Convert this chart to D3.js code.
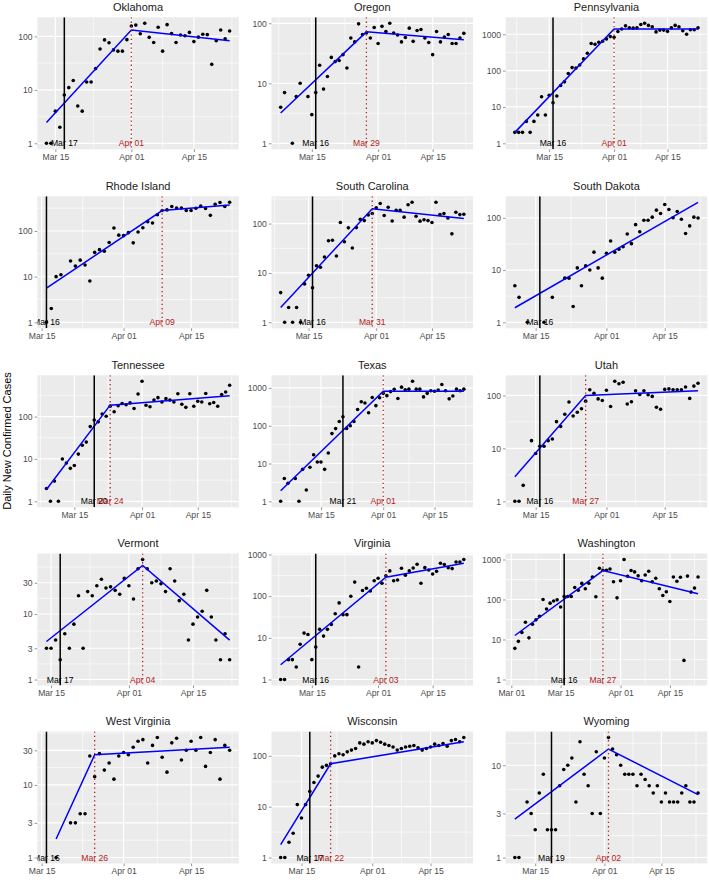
<!DOCTYPE html>
<html><head><meta charset="utf-8">
<script src="https://cdn.jsdelivr.net/npm/d3@7"></script>
<style>
body{margin:0;background:#fff}
text{font-family:"Liberation Sans",Arial,Helvetica,sans-serif}
</style>
</head><body>
<svg id="chart" width="709" height="880"></svg>
<script>
// ---------------- DATA ----------------
const states = ["Oklahoma","Oregon","Pennsylvania","Rhode Island","South Carolina","South Dakota",
  "Tennessee","Texas","Utah","Vermont","Virginia","Washington","West Virginia","Wisconsin","Wyoming"];
const startDates = ["2020-03-13","2020-03-07","2020-03-06","2020-03-16","2020-03-08","2020-03-10",
  "2020-03-08","2020-03-04","2020-03-10","2020-03-14","2020-03-07","2020-03-02","2020-03-18","2020-03-10","2020-03-10"];
const policyDates = ["2020-03-17","2020-03-16","2020-03-16","2020-03-16","2020-03-16","2020-03-16",
  "2020-03-20","2020-03-21","2020-03-16","2020-03-17","2020-03-16","2020-03-16","2020-03-16","2020-03-17","2020-03-19"];
const breakDates = ["2020-04-01","2020-03-29","2020-04-01","2020-04-09","2020-03-31",null,
  "2020-03-24","2020-04-01","2020-03-27","2020-04-04","2020-04-03","2020-03-27","2020-03-26","2020-03-22","2020-04-02"];
// fitted segmented trend: value at start, at breakpoint, at end
const fitStart = [2.45,3.2,2,5.6,2,1.9,1.9,1.9,2.9,3.8,2.26,12.6,1.8,1.8,2.6];
const fitBreak = [132,72,1400,280,200,null,186,820,100,55,285,530,26,70,15];
const fitEnd   = [83,53,1400,370,127,198,310,820,122,4.0,620,139,33,190,4.8];

const oklahomaCases = [1,1,4,2,8,11,15,5,4,14,14,25,58,86,76,56,53,53,87,
  157,163,112,176,96,77,148,53,166,113,77,106,103,119,80,97,110,108,30,83,132,90,126];
const oregonCases = [4,7,null,1,6,10,null,6,3,7,20,8,13,27,23,24,30,18,57,49,98,65,69,57,85,
  46,89,73,100,69,64,49,58,83,50,76,79,57,48,30,73,49,59,65,46,46,57,68];
const pennsylvaniaCases = [2,2,2,4,2,4,6,19,6,21,13,20,39,49,83,121,117,143,210,300,555,530,600,640,745,860,
  830,1190,1400,1700,1500,1470,1500,1850,2000,1750,1600,1160,1300,1300,1200,1500,1750,1600,1250,1000,1330,1330,1500];
const rhodeIslandCases = [1,2,10,11,null,22,17,23,18,8,34,39,36,56,116,81,
  79,92,55,95,118,160,150,226,280,290,344,320,320,280,280,315,350,310,220,385,420,345,425];
const southCarolinaCases = [4,1,2,1,2,1,6,9,5,14,13,21,45,46,22,105,43,82,32,83,122,115,150,160,
  210,256,146,214,113,185,185,135,240,270,141,112,120,115,105,270,152,160,130,62,170,152,155];
const southDakotaCases = [5,3,null,1,null,null,null,1,null,3,null,null,7,7,2,11,5,12,10,22,11,7,
  21,36,22,25,28,49,32,74,54,90,90,103,140,121,180,144,100,132,94,50,70,103,99];
const tennesseeCases = [2,1,3,1,10,8,6,7,13,21,25,58,83,75,115,102,176,130,180,203,190,210,155,340,
  680,185,170,245,280,220,265,245,220,345,195,165,345,175,230,220,350,200,215,175,330,380,550];
const texasCases = [1,4,3,null,4,1,7,2,8,17,11,11,7,19,62,84,130,172,85,100,130,270,430,400,220,560,340,550,
  720,625,800,920,525,1050,900,930,1500,930,930,580,720,840,820,880,1230,840,515,610,930,840,930];
const utahCases = [1,1,2,null,14,8,11,11,14,15,32,26,44,75,41,48,56,78,128,110,86,80,
  125,62,185,166,177,69,76,122,104,122,103,96,60,55,130,133,128,128,128,144,88,150,170];
const vermontCases = [3,3,4,2,5,3,7,19,3,22,19,27,34,25,26,23,20,35,
  27,17,49,68,49,30,32,29,22,49,32,16,20,4,7,9,11,23,9,4,2,5,2];
const virginiaCases = [1,1,3,3,2,7,13,12,3,6,16,11,16,21,38,69,36,36,100,218,2,137,155,133,235,
  270,205,310,405,235,245,470,320,405,475,585,205,485,425,340,395,620,575,485,460,660,660,760];
const washingtonCases = [6,9,15,27,11,24,31,38,100,58,81,92,98,65,119,119,119,200,170,253,185,255,365,117,605,540,540,580,278,110,
  295,1000,380,530,490,390,295,410,510,278,340,185,126,156,89,365,285,360,3,385,153,193,365];
const westVirginiaCases = [1,null,null,3,3,4,4,25,13,27,16,20,12,25,
  28,26,33,40,42,20,35,45,24,15,38,44,22,30,40,30,45,18,28,42,12,35,30];
const wisconsinCases = [1,1,2,3,11,6,11,20,30,40,60,65,70,100,110,105,120,130,140,180,170,190,
  180,200,185,170,160,150,130,140,150,155,160,145,130,140,150,170,160,175,155,200,210,190,230];
const wyomingCases = [1,1,null,4,3,2,5,8,2,2,2,6,9,10,12,4,18,8,6,3,14,3,
  12,20,15,13,10,8,8,8,6,8,7,6,5,6,4,5,4,4,4,5,6,4,4,5];

const casesByState = [oklahomaCases,oregonCases,pennsylvaniaCases,rhodeIslandCases,southCarolinaCases,southDakotaCases,
  tennesseeCases,texasCases,utahCases,vermontCases,virginiaCases,washingtonCases,westVirginiaCases,wisconsinCases,wyomingCases];
const xBreakCandidates = ["2020-02-15","2020-03-01","2020-03-15","2020-04-01","2020-04-15","2020-05-01","2020-05-15"];
const yAxisTitle = "Daily New Confirmed Cases";

// ---------------- LAYOUT ----------------
const svg = d3.select("#chart");
const parse = d3.utcParse("%Y-%m-%d");
const fmt = d3.utcFormat("%b %d");
const DAY = 864e5;
const panelW = 201.5, panelH = 132;
const colX = [37.3, 271.5, 505.7];
const rowY = [17.3, 196.3, 375.3, 553.5, 731.5];
const gray = "#EBEBEB", axisCol = "#4D4D4D", red = "#B22222";

function minorBreaks(b, lo, hi) {
  if (b.length < 2) return [];
  const bd = b[1] - b[0];
  let bb = b.slice();
  if (lo < bb[0]) bb.unshift(bb[0] - bd);
  if (hi > bb[bb.length - 1]) bb.push(bb[bb.length - 1] + bd);
  const out = [];
  for (let i = 0; i < bb.length - 1; i++) out.push((bb[i] + bb[i + 1]) / 2);
  return out.filter(v => v >= lo && v <= hi);
}

function logBreaks(lo, hi) {
  const a = Math.floor(Math.log10(lo)), b = Math.ceil(Math.log10(hi));
  let br = d3.range(a, b + 1).map(e => Math.pow(10, e)).filter(v => v >= lo && v <= hi);
  if (br.length < 3) {
    br = [];
    d3.range(a, b + 1).forEach(e => { br.push(Math.pow(10, e), 3 * Math.pow(10, e)); });
    br = br.filter(v => v >= lo && v <= hi);
  }
  return br;
}

const defs = svg.append("defs");

states.forEach((name, i) => {
  const col = i % 3, row = Math.floor(i / 3);
  const x0 = colX[col], y0 = rowY[row];
  const start = parse(startDates[i]);
  const vals = casesByState[i];
  const last = new Date(+start + (vals.length - 1) * DAY);
  const pts = vals.map((v, k) => ({ date: new Date(+start + k * DAY), v }))
    .filter(p => p.v != null && p.v > 0);
  const pDate = parse(policyDates[i]);
  const bDate = breakDates[i] ? parse(breakDates[i]) : null;
  const fit = bDate ? [{ date: start, v: fitStart[i] }, { date: bDate, v: fitBreak[i] }, { date: last, v: fitEnd[i] }]
                    : [{ date: start, v: fitStart[i] }, { date: last, v: fitEnd[i] }];

  const xs = [start, last, pDate].concat(bDate ? [bDate] : []).map(d => +d);
  const xmin = d3.min(xs), xmax = d3.max(xs), xspan = xmax - xmin;
  const x = d3.scaleUtc().domain([new Date(xmin - 0.05 * xspan), new Date(xmax + 0.05 * xspan)])
    .range([x0, x0 + panelW]);

  const ls = pts.map(p => Math.log10(p.v)).concat(fit.map(f => Math.log10(f.v))).concat([0]);
  const lmin = d3.min(ls), lmax = d3.max(ls), pad = 0.05 * (lmax - lmin);
  const ylo = Math.pow(10, lmin - pad), yhi = Math.pow(10, lmax + pad);
  const y = d3.scaleLog().domain([ylo, yhi]).range([y0 + panelH, y0]);

  const g = svg.append("g");
  g.append("rect").attr("x", x0).attr("y", y0).attr("width", panelW).attr("height", panelH).attr("fill", gray);

  const clipId = "clip" + i;
  defs.append("clipPath").attr("id", clipId).append("rect")
    .attr("x", x0).attr("y", y0).attr("width", panelW).attr("height", panelH);

  const yMaj = logBreaks(ylo, yhi);
  const yMin = minorBreaks(yMaj.map(Math.log10), Math.log10(ylo), Math.log10(yhi)).map(v => Math.pow(10, v));
  g.selectAll(null).data(yMin).join("line")
    .attr("x1", x0).attr("x2", x0 + panelW).attr("y1", d => y(d)).attr("y2", d => y(d))
    .attr("stroke", "#fff").attr("stroke-width", 0.6);
  const dlo = x.domain()[0], dhi = x.domain()[1];
  const xMaj = xBreakCandidates.map(parse).filter(d => d >= dlo && d <= dhi);
  const xMin = minorBreaks(xMaj.map(d => +d), +dlo, +dhi);
  g.selectAll(null).data(xMin).join("line")
    .attr("y1", y0).attr("y2", y0 + panelH).attr("x1", d => x(new Date(d))).attr("x2", d => x(new Date(d)))
    .attr("stroke", "#fff").attr("stroke-width", 0.6);
  g.selectAll(null).data(yMaj).join("line")
    .attr("x1", x0).attr("x2", x0 + panelW).attr("y1", d => y(d)).attr("y2", d => y(d))
    .attr("stroke", "#fff").attr("stroke-width", 1.2);
  g.selectAll(null).data(xMaj).join("line")
    .attr("y1", y0).attr("y2", y0 + panelH).attr("x1", d => x(d)).attr("x2", d => x(d))
    .attr("stroke", "#fff").attr("stroke-width", 1.2);

  const pg = g.append("g").attr("clip-path", `url(#${clipId})`);
  pg.selectAll(null).data(pts).join("circle")
    .attr("cx", d => x(d.date)).attr("cy", d => y(d.v)).attr("r", 1.8).attr("fill", "#000");
  pg.append("path").datum(fit)
    .attr("d", d3.line().x(d => x(d.date)).y(d => y(d.v)))
    .attr("fill", "none").attr("stroke", "#0000FF").attr("stroke-width", 1.5);
  pg.append("line").attr("x1", x(pDate)).attr("x2", x(pDate)).attr("y1", y0).attr("y2", y0 + panelH)
    .attr("stroke", "#000").attr("stroke-width", 1.5);
  if (bDate) {
    pg.append("line").attr("x1", x(bDate)).attr("x2", x(bDate)).attr("y1", y0).attr("y2", y0 + panelH)
      .attr("stroke", red).attr("stroke-width", 1.3).attr("stroke-dasharray", "1.3,3");
  }
  pg.append("text").attr("x", x(pDate)).attr("y", y(1)).attr("dy", "0.35em")
    .attr("text-anchor", "middle").attr("font-size", 8.6).attr("fill", "#000").text(fmt(pDate));
  if (bDate) {
    pg.append("text").attr("x", x(bDate)).attr("y", y(1)).attr("dy", "0.35em")
      .attr("text-anchor", "middle").attr("font-size", 8.6).attr("fill", red).text(fmt(bDate));
  }

  const ya = g.append("g").attr("transform", `translate(${x0},0)`)
    .call(d3.axisLeft(y).tickValues(yMaj).tickFormat(d3.format("d")).tickSize(2.7).tickPadding(2));
  ya.select(".domain").remove();
  ya.selectAll("line").attr("stroke", "#333").attr("stroke-width", 0.5);
  ya.selectAll("text").attr("fill", axisCol).attr("font-size", 8.6).attr("font-family", null);
  const xa = g.append("g").attr("transform", `translate(0,${y0 + panelH})`)
    .call(d3.axisBottom(x).tickValues(xMaj).tickFormat(fmt).tickSize(2.7).tickPadding(2));
  xa.select(".domain").remove();
  xa.selectAll("line").attr("stroke", "#333").attr("stroke-width", 0.5);
  xa.selectAll("text").attr("fill", axisCol).attr("font-size", 8.6).attr("font-family", null);

  g.append("text").attr("x", x0 + panelW / 2).attr("y", y0 - 6.5).attr("text-anchor", "middle")
    .attr("font-size", 11).attr("fill", "#1A1A1A").text(name);
});

svg.append("text").attr("transform", "translate(10.5,441) rotate(-90)").attr("text-anchor", "middle")
  .attr("font-size", 11).attr("fill", "#000").text(yAxisTitle);
</script>
</body></html>
